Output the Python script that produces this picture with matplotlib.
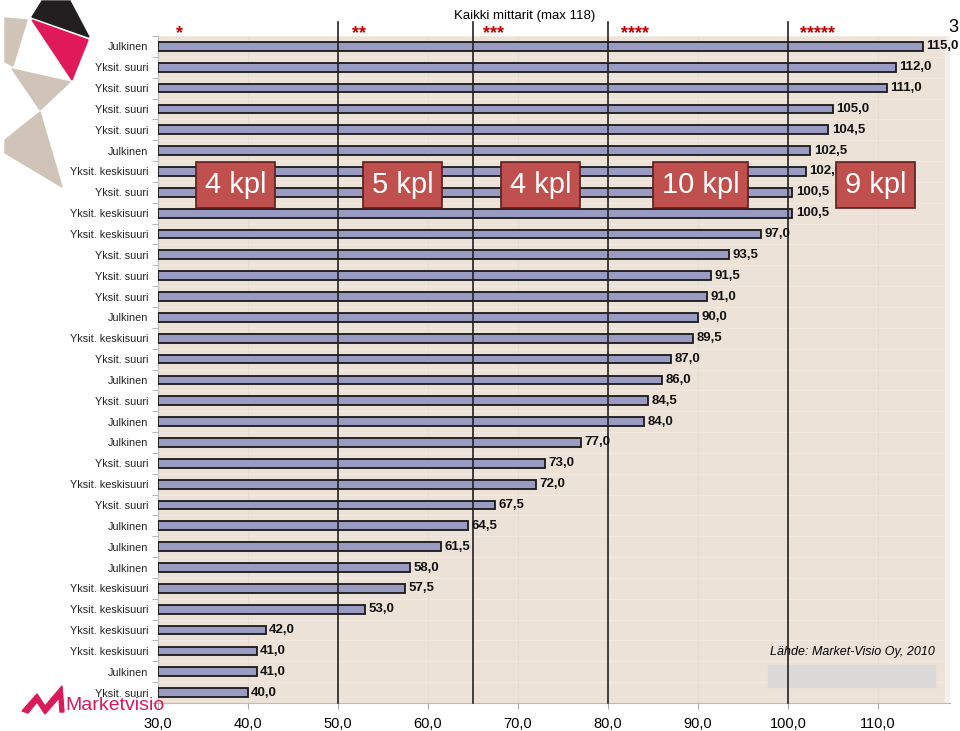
import matplotlib
matplotlib.use("Agg")
import matplotlib.pyplot as plt
from matplotlib.patches import Polygon, Rectangle
from matplotlib import font_manager
import numpy as np

plt.rcParams['font.family'] = ['Liberation Sans', 'DejaVu Sans']
names = {f.name for f in font_manager.fontManager.ttflist}
NARROW = 'Liberation Sans Narrow' if 'Liberation Sans Narrow' in names else 'Liberation Sans'

categories = ["Julkinen", "Yksit. suuri", "Yksit. suuri", "Yksit. suuri", "Yksit. suuri",
              "Julkinen", "Yksit. keskisuuri", "Yksit. suuri", "Yksit. keskisuuri",
              "Yksit. keskisuuri", "Yksit. suuri", "Yksit. suuri", "Yksit. suuri",
              "Julkinen", "Yksit. keskisuuri", "Yksit. suuri", "Julkinen", "Yksit. suuri",
              "Julkinen", "Julkinen", "Yksit. suuri", "Yksit. keskisuuri", "Yksit. suuri",
              "Julkinen", "Julkinen", "Julkinen", "Yksit. keskisuuri", "Yksit. keskisuuri",
              "Yksit. keskisuuri", "Yksit. keskisuuri", "Julkinen", "Yksit. suuri"]
values = [115.0, 112.0, 111.0, 105.0, 104.5, 102.5, 102.0, 100.5, 100.5, 97.0,
          93.5, 91.5, 91.0, 90.0, 89.5, 87.0, 86.0, 84.5, 84.0, 77.0,
          73.0, 72.0, 67.5, 64.5, 61.5, 58.0, 57.5, 53.0, 42.0, 41.0, 41.0, 40.0]
xticks = [30, 40, 50, 60, 70, 80, 90, 100, 110]
class_lines = [50, 65, 80, 100]
star_labels = ["*", "**", "***", "****", "*****"]
star_x = [32.0, 51.6, 66.1, 81.5, 101.3]
count_labels = ["4 kpl", "5 kpl", "4 kpl", "10 kpl", "9 kpl"]
count_x = [38.6, 57.2, 72.5, 90.3, 109.7]
base = 30

fig = plt.figure(figsize=(9.6, 7.31), dpi=100)
ax = fig.add_axes([158/960, 1-703/731, 792/960, 667/731])
ax.set_facecolor('#EDE2D7')

n = len(values)
y = np.arange(n)
ax.barh(y, [v - base for v in values], left=base, height=0.42, color='#9A9BC2',
        edgecolor='#1a1a1a', linewidth=1.3, zorder=3)
for yi, v in zip(y, values):
    ax.text(v + 0.35, yi, f"{v:.1f}".replace('.', ','), va='center', ha='left',
            fontsize=11 if NARROW != 'Liberation Sans' else 9.5, fontweight='bold',
            family=NARROW, color='#111111', zorder=6)

ax.set_xlim(30, 118)
ax.set_ylim(n - 0.5, -0.5)
ax.set_xticks(xticks)
ax.set_xticklabels([f"{t:.1f}".replace('.', ',') for t in xticks], fontsize=10.5)
ax.set_yticks(y)
ax.set_yticklabels(categories, fontsize=9 if NARROW != 'Liberation Sans' else 7.8,
                   family=NARROW, color='#222222')
ax.set_yticks(np.arange(-0.5, n, 1), minor=True)
ax.tick_params(axis='y', which='major', length=0, pad=7)
ax.tick_params(axis='y', which='minor', length=4, color='#aaaaaa')
ax.tick_params(axis='x', length=4, color='#aaaaaa', pad=6)

for yy in np.arange(-0.5, n, 1):
    ax.axhline(yy, color='#F2EAE2', lw=0.8, zorder=1)
for xx in xticks:
    ax.axvline(xx, color='#E6DBD0', lw=0.6, zorder=1)

for s in ['top', 'right']:
    ax.spines[s].set_visible(False)
ax.spines['left'].set_color('#bbbbbb')
ax.spines['bottom'].set_color('#bbbbbb')
ax.add_patch(Rectangle((117.5, -0.5), 0.5, n, color='#F3EFEA', zorder=2))

for xl in class_lines:
    ax.axvline(xl, ymin=0, ymax=1.021, color='#222222', lw=1.2, zorder=4, clip_on=False)

for sx, sl in zip(star_x, star_labels):
    ax.text(sx, -0.62, sl, color='#C00000', fontsize=13, fontweight='bold',
            ha='left', va='center')

for cx, cl in zip(count_x, count_labels):
    ax.text(cx, 6.65, cl, color='white', fontsize=21, ha='center', va='center', zorder=8,
            bbox=dict(boxstyle='square,pad=0.3', fc='#C0504D', ec='#5a1f1e', lw=1.2))

fig.text(525/960, 1-16/731, "Kaikki mittarit (max 118)", ha='center', va='center', fontsize=9.5)
fig.text(0.998, 1-28/731, "3", ha='right', va='center', fontsize=13)

ax.text(98.0, 29.06, "Lähde: Market-Visio Oy, 2010", fontsize=9, style='italic',
        ha='left', va='center', zorder=5)
ax.add_patch(Rectangle((97.8, 29.68), 18.5, 1.06, color='#DCDAD8', zorder=2))

# Logo overlay
ov = fig.add_axes([0, 0, 1, 1], zorder=-1)
ov.set_xlim(0, 960)
ov.set_ylim(731, 0)
ov.axis('off')
ov.add_patch(Polygon([(5, 18), (27, 20), (13, 66), (5, 62)], color='#CFC4B7'))
ov.add_patch(Polygon([(12, 69), (70, 82), (40, 110)], color='#CFC4B7'))
ov.add_patch(Polygon([(40, 112), (62, 187), (5, 153), (5, 140)], color='#CFC4B7'))
ov.add_patch(Polygon([(32, 17), (42, 1), (70, 1), (89, 37)], color='#231F20'))
ov.add_patch(Polygon([(32, 20), (88, 40), (72, 80)], color='#E0195A'))

ov2 = fig.add_axes([0, 0, 1, 1], zorder=10)
ov2.set_xlim(0, 960)
ov2.set_ylim(731, 0)
ov2.axis('off')
ov2.add_patch(Polygon([(22, 711), (37, 694), (45, 706), (62, 686), (64, 712), (60, 712),
                       (59, 698), (45, 714), (37, 702), (28, 713)], color='#D91A5B'))
ov2.text(65, 705, "Marketvisio", color='#D91A5B', fontsize=14, ha='left', va='center')

fig.savefig("out.png", dpi=100)
